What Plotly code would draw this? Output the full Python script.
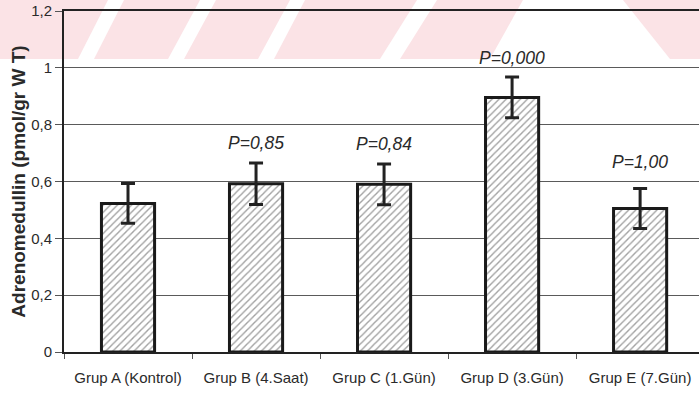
import plotly.graph_objects as go

categories = ["Grup A (Kontrol)", "Grup B (4.Saat)", "Grup C (1.Gün)", "Grup D (3.Gün)", "Grup E (7.Gün)"]
values = [0.523, 0.592, 0.590, 0.896, 0.505]
errors = [0.070, 0.073, 0.072, 0.072, 0.070]
p_labels = ["", "P=0,85", "P=0,84", "P=0,000", "P=1,00"]
y_tickvals = [0, 0.2, 0.4, 0.6, 0.8, 1.0, 1.2]
y_ticktext = ["0", "0,2", "0,4", "0,6", "0,8", "1", "1,2"]
y_title = "Adrenomedullin (pmol/gr W T)"

W, H = 700, 393
L, R, T, B = 64, 1, 11, 41
FONT = "Arial, Liberation Sans, sans-serif"
TXT = "#2a2a2a"

fig = go.Figure()
fig.add_trace(go.Bar(
    x=categories, y=values, width=0.415,
    error_y=dict(type="data", array=errors, visible=True, color="#222222", thickness=3, width=7),
    marker=dict(color="white", line=dict(color="#1a1a1a", width=3),
                pattern=dict(shape="/", fgcolor="#444444", bgcolor="white", size=5, solidity=0.28)),
    showlegend=False, hoverinfo="skip",
))

# P-value annotations
label_shift = [0, 20, 20, 19, 27]
for i, (c, v, e, t) in enumerate(zip(categories, values, errors, p_labels)):
    if t:
        fig.add_annotation(x=c, y=v + e, text=f"<i>{t}</i>", showarrow=False,
                           yanchor="middle", yshift=label_shift[i],
                           font=dict(family=FONT, size=17.5, color=TXT))

# faint pink watermark stripes (window pixel coords)
pw = W - L - R
ph = H - T - B
def px(x):
    return (x - L) / pw
def py(y):
    return (H - B - y) / ph
stripes = [((0, 108), (0, 78)), ((124, 200), (94, 168)), ((216, 290), (184, 258)),
           ((305, 417), (274, 380)), ((437, 523), (400, 490)), ((623, 700), (670, 700))]
ytop, ybot = 0, 59
for (t0, t1), (b0, b1) in stripes:
    path = (f"M {px(t0)},{py(ytop)} L {px(t1)},{py(ytop)} L {px(b1)},{py(ybot)} "
            f"L {px(b0)},{py(ybot)} Z")
    fig.add_shape(type="path", path=path, xref="paper", yref="paper",
                  fillcolor="#fbe3e6", line=dict(width=0), layer="below")

fig.update_layout(
    width=W, height=H,
    margin=dict(l=L, r=R, t=T, b=B, autoexpand=False),
    paper_bgcolor="white", plot_bgcolor="rgba(0,0,0,0)",
    font=dict(family=FONT, size=12, color=TXT),
)
fig.update_xaxes(
    range=[-0.5, 4.46], showline=True, linecolor="#222222", linewidth=2, mirror=True,
    ticks="outside", ticklen=5, tickcolor="#555555", tickson="boundaries",
    ticklabelstandoff=11, ticklabeloverflow="allow",
    showgrid=False, automargin=False, tickfont=dict(family=FONT, size=15, color=TXT),
)
fig.update_yaxes(
    range=[0, 1.2], tickvals=y_tickvals, ticktext=y_ticktext,
    showline=True, linecolor="#222222", linewidth=2, automargin=False,
    ticks="outside", ticklen=7, tickcolor="#555555", ticklabeloverflow="allow",
    showgrid=True, gridcolor="#5a5a5a", gridwidth=1, zeroline=False,
    tickfont=dict(family=FONT, size=15, color=TXT),
    title=dict(text=f"<b>{y_title}</b>", standoff=0, font=dict(family=FONT, size=19, color=TXT)),
)

fig.write_html("out.html", config={"displayModeBar": False},
               post_script="document.body.style.margin='0';")
